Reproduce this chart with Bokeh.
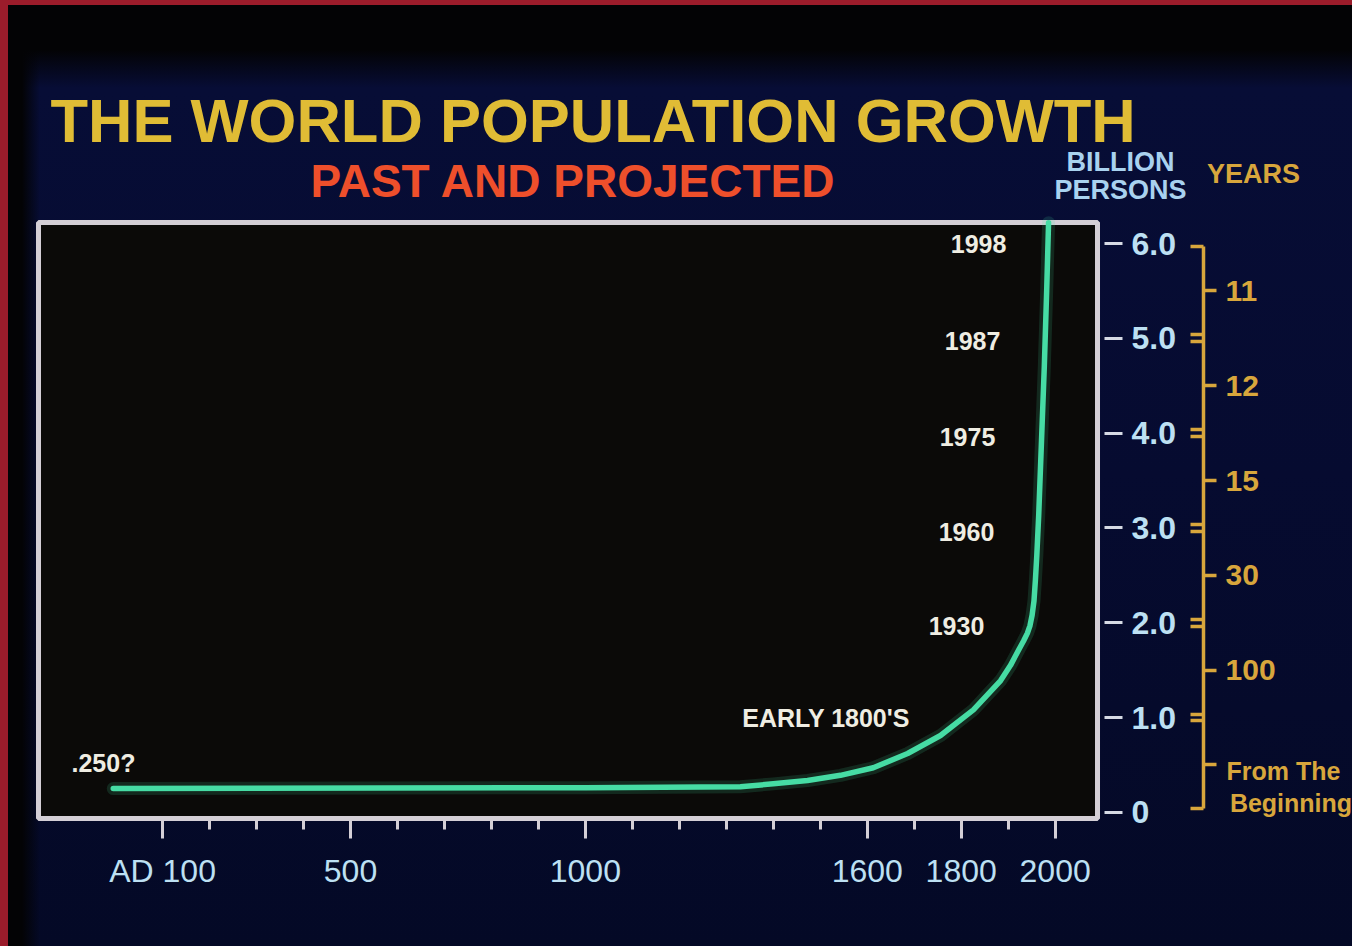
from bokeh.plotting import figure
from bokeh.models import (Range1d, FixedTicker, Label, LabelSet, ColumnDataSource,
                          LinearAxis)
from bokeh.core.properties import value
from bokeh.embed import file_html
from bokeh.resources import INLINE

# ---------------- data ----------------
years = [-5, 1000, 1330, 1400, 1473, 1543, 1613, 1686, 1756, 1826, 1884, 1905,
         1922, 1933, 1941, 1946.5, 1951, 1955, 1958, 1961, 1965, 1971, 1977,
         1982, 1986]
population = [0.25, 0.26, 0.27, 0.30, 0.335, 0.39, 0.47, 0.62, 0.81, 1.08, 1.39, 1.55,
              1.71, 1.81, 1.89, 1.97, 2.08, 2.23, 2.45, 2.71, 3.13, 3.92, 4.71,
              5.50, 6.22]

x_major_ticks = [100, 500, 1000, 1600, 1800, 2000]
x_minor_ticks = [200, 300, 400, 600, 700, 800, 900, 1100, 1200, 1300, 1400,
                 1500, 1700, 1900]
x_tick_labels = {100: "AD 100"}

y_ticks = [0, 1, 2, 3, 4, 5, 6]
y_tick_labels = {0: "0", 1: "1.0", 2: "2.0", 3: "3.0", 4: "4.0", 5: "5.0", 6: "6.0"}

ann_text = ["1998", "1987", "1975", "1960", "1930", "EARLY 1800'S", ".250?"]
ann_value = [6.0, 5.0, 4.0, 3.0, 2.0, 1.0, 0.25]

bracket_lo = [0, 1, 2, 3, 4, 5]
bracket_hi = [1, 2, 3, 4, 5, 6]
years_to_add_billion = ["From The Beginning", "100", "30", "15", "12", "11"]

# chart box (domain of the data scales)
x_min, x_max = -164.1, 2090.2
y_min, y_max = -0.065, 6.222

# ---------------- colours / fonts ----------------
FONT = "Liberation Sans"
YELLOW = "#e0bc35"
ORANGE = "#ee4f2b"
LIGHTBLUE = "#bde0f3"
GOLD = "#d8a63c"
WHITE = "#efede2"
CURVE = "#46dca4"
FRAME = "#d4cfd6"

p = figure(width=1352, height=946,
           x_range=Range1d(-245.0, 2633.0), y_range=Range1d(-1.4156, 8.5633),
           output_backend="svg", toolbar_location=None, y_axis_location="right",
           min_border=0, min_border_left=0, min_border_right=0,
           min_border_top=0, min_border_bottom=0,
           background_fill_color=None, border_fill_color=None,
           outline_line_color=None)

p.styles = {"background": (
    "linear-gradient(to right, #9b1c2b 0px, #9b1c2b 8px, rgba(0,0,0,0) 8px),"
    "linear-gradient(to bottom, #9b1c2b 0px, #9b1c2b 5px, rgba(0,0,0,0) 5px),"
    "linear-gradient(to right, #030305 0px, #030305 22px, rgba(3,3,5,0) 40px),"
    "linear-gradient(to bottom, #030305 0px, #030305 50px, #070d36 88px, #060b30 50%, #040926 100%)")}

p.xgrid.visible = False
p.ygrid.visible = False

# chart box
p.quad(left=[x_min], right=[x_max], bottom=[y_min], top=[y_max],
       fill_color="#0b0a08", line_color=FRAME, line_width=5)

# curve (soft glow + line)
p.line(years, population, line_width=13, line_color=CURVE, line_alpha=0.15,
       line_join="round", line_cap="round")
p.line(years, population, line_width=5.5, line_color=CURVE,
       line_join="round", line_cap="round")

# ---------------- x axis ----------------
xa = p.xaxis[0]
xa.fixed_location = y_min
xa.bounds = (100, 2000)
xa.ticker = FixedTicker(ticks=x_major_ticks, minor_ticks=x_minor_ticks)
xa.major_label_overrides = x_tick_labels
xa.axis_line_color = None
xa.major_tick_line_color = FRAME
xa.major_tick_line_width = 3
xa.major_tick_in = 0
xa.major_tick_out = 20
xa.minor_tick_line_color = FRAME
xa.minor_tick_line_width = 3
xa.minor_tick_in = 0
xa.minor_tick_out = 11
xa.major_label_text_font = FONT
xa.major_label_text_font_size = "32px"
xa.major_label_text_color = LIGHTBLUE
xa.major_label_standoff = 15

# ---------------- y axis (billion persons) ----------------
ya = p.yaxis[0]
ya.fixed_location = x_max
ya.bounds = (0, 6)
ya.ticker = FixedTicker(ticks=y_ticks, minor_ticks=[])
ya.major_label_overrides = y_tick_labels
ya.axis_line_color = None
ya.major_tick_line_color = "#d6dae4"
ya.major_tick_line_width = 3
ya.major_tick_in = -7
ya.major_tick_out = 25
ya.minor_tick_line_color = None
ya.major_label_text_font = FONT
ya.major_label_text_font_size = "32px"
ya.major_label_text_font_style = "bold"
ya.major_label_text_color = LIGHTBLUE
ya.major_label_standoff = 9

# ---------------- "years to add a billion" bracket scale ----------------
gap = 0.035
mids = [(lo + hi) / 2 for lo, hi in zip(bracket_lo, bracket_hi)]
hooks = []
for lo, hi in zip(bracket_lo, bracket_hi):
    hooks += [lo + gap, hi - gap]
br_labels = {m: ("" if t.startswith("From") else t)
             for m, t in zip(mids, years_to_add_billion)}
ba = LinearAxis(fixed_location=2315.9, bounds=(gap, 6 - gap))
ba.ticker = FixedTicker(ticks=mids, minor_ticks=hooks)
ba.major_label_overrides = br_labels
ba.axis_line_color = GOLD
ba.axis_line_width = 3.5
ba.major_tick_line_color = GOLD
ba.major_tick_line_width = 3.5
ba.major_tick_in = 0
ba.major_tick_out = 13
ba.minor_tick_line_color = GOLD
ba.minor_tick_line_width = 3.5
ba.minor_tick_in = 13
ba.minor_tick_out = 0
ba.major_label_text_font = FONT
ba.major_label_text_font_size = "30px"
ba.major_label_text_font_style = "bold"
ba.major_label_text_color = GOLD
ba.major_label_standoff = 9
p.add_layout(ba, "right")

first_line = " ".join(years_to_add_billion[0].split(" ")[:2])
second_line = years_to_add_billion[0].split(" ")[2]
p.add_layout(Label(x=2364.9, y=0.44, text=first_line, text_font=FONT,
                   text_font_size="25px", text_font_style="bold", text_color=GOLD,
                   text_align="left", text_baseline="middle"))
p.add_layout(Label(x=2372.0, y=0.095, text=second_line, text_font=FONT,
                   text_font_size="25px", text_font_style="bold", text_color=GOLD,
                   text_align="left", text_baseline="middle"))

# ---------------- annotations inside the chart ----------------
ann_x = [1837.0, 1824.2, 1813.5, 1811.4, 1790.1, 1512.3, -25.8]
ann_y = [6.0, 4.97, 3.96, 2.96, 1.97, 0.99, 0.52]
p.add_layout(LabelSet(x="x", y="y", text="t",
                      source=ColumnDataSource(dict(x=ann_x, y=ann_y, t=ann_text)),
                      text_font=value(FONT), text_font_size="25px",
                      text_font_style="bold", text_color=WHITE,
                      text_align="center", text_baseline="middle"))

# ---------------- titles ----------------
p.add_layout(Label(x=-138.6, y=7.297, text="THE WORLD POPULATION GROWTH",
                   text_font=FONT, text_font_size="61.5px", text_font_style="bold",
                   text_color=YELLOW, text_align="left", text_baseline="alphabetic"))
p.add_layout(Label(x=414.8, y=6.659, text="PAST AND PROJECTED",
                   text_font=FONT, text_font_size="46px", text_font_style="bold",
                   text_color=ORANGE, text_align="left", text_baseline="alphabetic"))
p.add_layout(Label(x=2139.2, y=6.860, text="BILLION",
                   text_font=FONT, text_font_size="27px", text_font_style="bold",
                   text_color="#a9d2ef", text_align="center", text_baseline="alphabetic"))
p.add_layout(Label(x=2139.2, y=6.565, text="PERSONS",
                   text_font=FONT, text_font_size="27px", text_font_style="bold",
                   text_color="#a9d2ef", text_align="center", text_baseline="alphabetic"))
p.add_layout(Label(x=2422.3, y=6.728, text="YEARS",
                   text_font=FONT, text_font_size="27px", text_font_style="bold",
                   text_color=GOLD, text_align="center", text_baseline="alphabetic"))

open("out.html", "w").write(file_html(p, INLINE))
